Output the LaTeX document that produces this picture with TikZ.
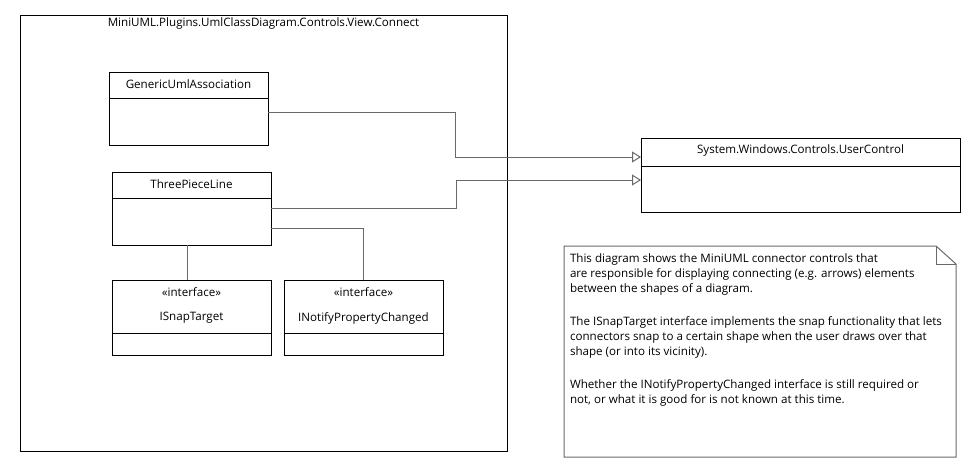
\documentclass[tikz,border=0pt]{standalone}
\usepackage{fontspec}
\setmainfont{Open Sans}
\usetikzlibrary{arrows.meta}
\definecolor{linegray}{RGB}{105,105,105}
\begin{document}
\begin{tikzpicture}[x=1pt,y=-1pt,
  every node/.style={inner sep=0pt, outer sep=0pt},
  box/.style={draw=black, line width=1pt, fill=white, anchor=north west},
  lbl/.style={font=\fontsize{11.6}{13}\selectfont, text=black},
  conn/.style={draw=linegray, line width=1pt},
  gen/.style={conn, -{Triangle[open, length=9pt, width=11pt, line width=1pt]}},
  divider/.style={draw=black, line width=1pt}]
\useasboundingbox (0,0) rectangle (973,464);

% package
\node[box, minimum width=487pt, minimum height=436pt] (pkg) at (20,15) {};
\node[lbl] (pkgl) at (263.5,23) {MiniUML.Plugins.UmlClassDiagram.Controls.View.Connect};

% GenericUmlAssociation
\node[box, minimum width=159pt, minimum height=73pt] (gua) at (109,72) {};
\draw[divider] ([yshift=-26pt]gua.north west) -- ([yshift=-26pt]gua.north east);
\node[lbl] (gual) at (188.5,84) {GenericUmlAssociation};

% ThreePieceLine
\node[box, minimum width=159pt, minimum height=73pt] (tpl) at (112,172) {};
\draw[divider] ([yshift=-26pt]tpl.north west) -- ([yshift=-26pt]tpl.north east);
\node[lbl] (tpll) at (191.5,184) {ThreePieceLine};

% ISnapTarget
\node[box, minimum width=159pt, minimum height=75pt] (ist) at (112,280) {};
\draw[divider] ([yshift=-53pt]ist.north west) -- ([yshift=-53pt]ist.north east);
\node[lbl] (istst) at (191.5,292) {«interface»};
\node[lbl] (istl) at (191.5,318) {ISnapTarget};

% INotifyPropertyChanged
\node[box, minimum width=159pt, minimum height=75pt] (inp) at (284,280) {};
\draw[divider] ([yshift=-53pt]inp.north west) -- ([yshift=-53pt]inp.north east);
\node[lbl] (inpst) at (363.5,292) {«interface»};
\node[lbl] (inpl) at (363.5,318) {INotifyPropertyChanged};

% UserControl
\node[box, minimum width=319pt, minimum height=74pt] (uc) at (641,138) {};
\draw[divider] ([yshift=-28pt]uc.north west) -- ([yshift=-28pt]uc.north east);
\node[lbl] (ucl) at (800.5,150) {System.Windows.Controls.UserControl};

% connectors
\draw[gen] ([yshift=-40pt]gua.north east) -- ++(187,0) |- ([yshift=-19pt]uc.north west);
\draw[gen] ([yshift=-36pt]tpl.north east) -- ++(185,0) |- ([yshift=-42pt]uc.north west);
\draw[conn] ([yshift=-56pt]tpl.north east) -| (inp.north);
\draw[conn] ([xshift=-4.5pt]tpl.south) -- ([xshift=-4.5pt]ist.north);

% note
\node[anchor=north west, minimum width=392pt, minimum height=211pt] (note) at (564,246) {};
\draw[draw=linegray, line width=1pt, fill=white]
  (note.north west) -- ([xshift=-20pt]note.north east) -- ([yshift=-18pt]note.north east)
  -- (note.south east) -- (note.south west) -- cycle;
\draw[draw=linegray, line width=1pt]
  ([xshift=-20pt]note.north east) -- ([xshift=-20pt,yshift=-18pt]note.north east)
  -- ([yshift=-18pt]note.north east);
\node[lbl, anchor=north west, align=left, font=\fontsize{11.6}{15}\selectfont] (notet) at (570,254)
{This diagram shows the MiniUML connector controls that\\
are responsible for displaying connecting (e.g. arrows) elements\\
between the shapes of a diagram.\\[18pt]
The ISnapTarget interface implements the snap functionality that lets\\
connectors snap to a certain shape when the user draws over that\\
shape (or into its vicinity).\\[18pt]
Whether the INotifyPropertyChanged interface is still required or\\
not, or what it is good for is not known at this time.};
\end{tikzpicture}
\end{document}
